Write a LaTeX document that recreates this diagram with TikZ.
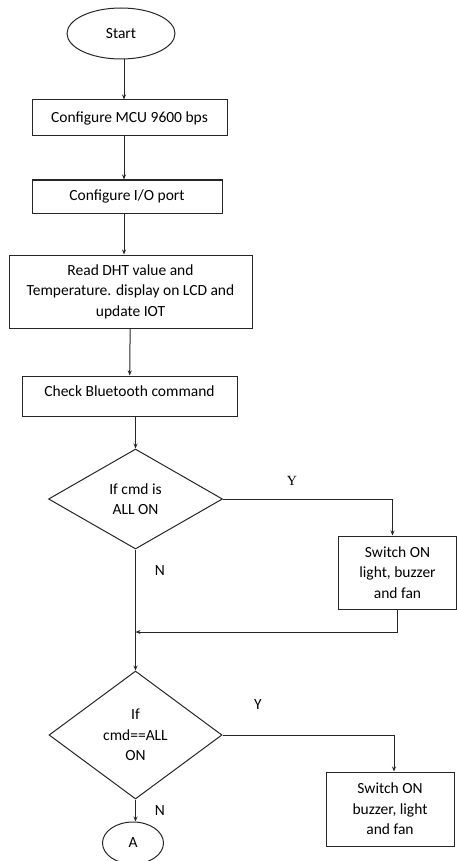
\documentclass[tikz,border=0pt]{standalone}
\usepackage{fontspec}
\setmainfont{Carlito}
\newfontfamily\timesfont{Liberation Serif}
\usetikzlibrary{shapes.geometric,arrows.meta}

\begin{document}
\begin{tikzpicture}[x=1pt, y=-1pt, font=\fontsize{15.5}{20.5}\selectfont,
    line width=1pt, draw=black!85, >={Stealth[length=5pt,width=4pt]},
    proc/.style={draw=black!85, rectangle, align=center, inner sep=0pt},
    term/.style={draw=black!85, ellipse, inner sep=0pt},
    decide/.style={draw=black!85, diamond, aspect=1.7, align=center, inner sep=0pt},
    tag/.style={inner sep=0pt}]
    \useasboundingbox (0,0) rectangle (457,861);
    \coordinate (spine) at (124,0);

    \node[term, minimum width=108pt, minimum height=51pt] (start) at (121,33.5) {Start};
    \node[proc, minimum width=195pt, minimum height=36pt] (cfgmcu) at (129.5,118) {Configure MCU 9600 bps};
    \node[proc, minimum width=190pt, minimum height=33pt] (cfgio) at (127,196.5) {Configure I/O port};
    \node[proc, minimum width=243pt, minimum height=73pt] (readdht) at (130.5,291.5)
        {Read DHT value and\\Temperature. display on LCD and\\update IOT};
    \node[proc, minimum width=215pt, inner ysep=4pt, text height=16pt, text depth=16pt] (chkbt) at (129.5,396)
        {Check Bluetooth command};
    \node[decide, minimum width=174pt, minimum height=100pt] (allon) at (135.5,499) {If cmd is\\ALL ON};
    \node[proc, minimum width=118pt, minimum height=73pt] (light1) at (397.5,572.5)
        {Switch ON\\light, buzzer\\and fan};
    \coordinate (join1) at (135.5,632);
    \node[decide, minimum width=173pt, minimum height=128pt] (cmdon) at (135.5,735) {If\\cmd==ALL\\ON};
    \node[proc, minimum width=128pt, minimum height=74pt] (light2) at (390,809)
        {Switch ON\\buzzer, light\\and fan};
    \node[term, minimum width=61pt, minimum height=42pt] (aterm) at (133,843) {A};

    \node[tag, font=\timesfont\fontsize{14}{16}\selectfont] (yes1) at (292,481) {Y};
    \node[tag] (no1) at (160,571) {N};
    \node[tag] (yes2) at (258,705) {Y};
    \node[tag] (no2) at (160,811) {N};

    \draw[->] (start.south -| spine) -- (spine |- cfgmcu.north);
    \draw[->] (cfgmcu.south -| spine) -- (spine |- cfgio.north);
    \draw[->] (cfgio.south -| spine) -- (spine |- readdht.north);
    \draw[->] (readdht) -- (chkbt);
    \draw[->] (chkbt.south -| allon.north) -- (allon.north);
    \draw[->] (allon.east) -| ([xshift=-5pt]light1.north);
    \draw[->] (light1.south) |- (join1);
    \draw[->] (allon.south) -- (cmdon.north);
    \draw[->] (cmdon.east) -| ([xshift=4pt]light2.north);
    \draw[->] (cmdon.south) -- (cmdon.south |- aterm.north);
\end{tikzpicture}
\end{document}
